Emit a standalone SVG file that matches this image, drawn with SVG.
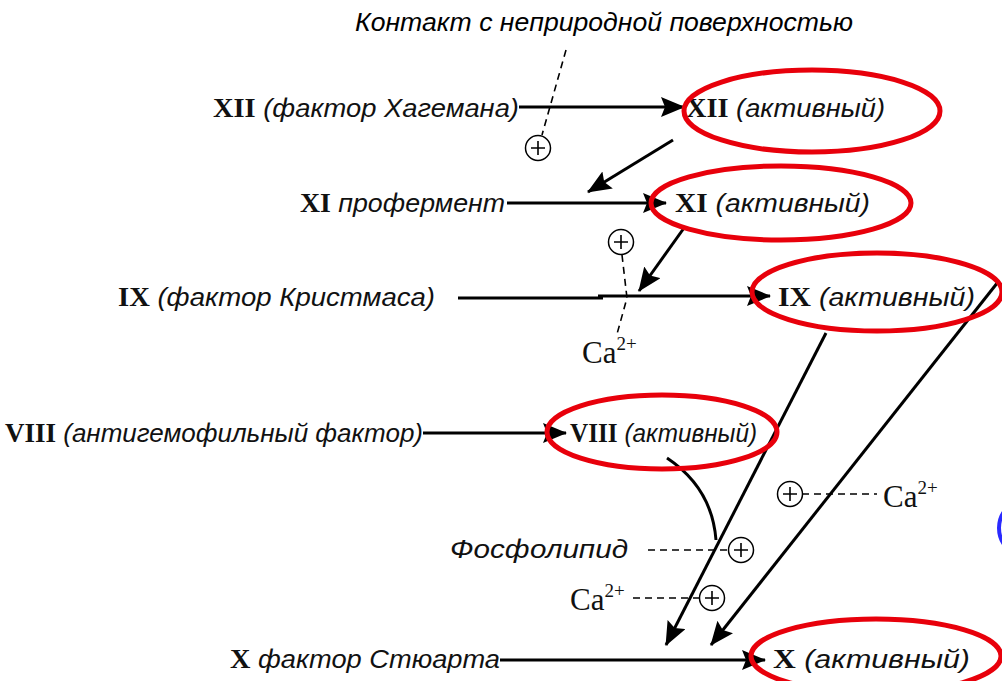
<svg xmlns="http://www.w3.org/2000/svg" width="1002" height="681" viewBox="0 0 1002 681">
<style>
.lbl{font-family:"Liberation Sans",Arial,sans-serif;font-style:italic;font-size:26px;fill:#111}
.rn{font-family:"Liberation Serif","Times New Roman",serif;font-style:normal;font-weight:bold;font-size:27px}
.ca{font-family:"Liberation Serif","Times New Roman",serif;font-size:31px;fill:#111}
.sup{font-size:19px}
.ttl{font-family:"Liberation Sans",Arial,sans-serif;font-style:italic;font-size:25px;fill:#000}
.ln{stroke:#000;stroke-width:3;fill:none}
.dash{stroke:#000;stroke-width:1.6;stroke-dasharray:7 5;fill:none}
.red{fill:none;stroke:#e8000b;stroke-width:5}
.pc{fill:#fff;stroke:#000;stroke-width:1.5}
.pl{stroke:#000;stroke-width:1.6}
</style>
<defs>
<marker id="ah" markerUnits="userSpaceOnUse" markerWidth="24" markerHeight="20" refX="23" refY="10" orient="auto">
<path d="M0,0 L24,10 L0,20 L4,10 z" fill="#000"/>
</marker>
<g id="plus"><circle r="12.5" class="pc"/><path d="M-7,0 H7 M0,-7 V7" class="pl"/></g>
</defs>
<rect width="1002" height="681" fill="#fff"/>

<g id="connectors">
<line x1="519" y1="107" x2="684" y2="107" class="ln" marker-end="url(#ah)"/>
<line x1="673" y1="140" x2="588" y2="192" class="ln" marker-end="url(#ah)"/>
<line x1="507" y1="203" x2="666" y2="203" class="ln" marker-end="url(#ah)"/>
<line x1="684" y1="228" x2="639" y2="291" class="ln" marker-end="url(#ah)"/>
<line x1="458" y1="298" x2="603" y2="298" class="ln" stroke-width="3.5"/>
<line x1="598" y1="296" x2="770" y2="296" class="ln" marker-end="url(#ah)"/>
<line x1="423" y1="433" x2="566" y2="433" class="ln" marker-end="url(#ah)"/>
<line x1="826" y1="333" x2="666" y2="645" class="ln" marker-end="url(#ah)"/>
<line x1="998" y1="282" x2="711" y2="645" class="ln" marker-end="url(#ah)"/>
<path d="M667,458 Q712,488 716,540" class="ln"/>
<line x1="500" y1="660" x2="765" y2="660" class="ln" marker-end="url(#ah)"/>
<path d="M566,50 L542,135" class="dash"/>
<path d="M622,255 L627,298 L617,334" class="dash"/>
<path d="M802,494 H877" class="dash"/>
<path d="M648,550 H728" class="dash"/>
<path d="M633,598 H699" class="dash"/>
</g>

<g id="title"><text x="355" y="31" class="ttl" textLength="498" lengthAdjust="spacingAndGlyphs">Контакт с неприродной поверхностью</text></g>

<g id="n-xii"><text x="213" y="117" class="lbl" textLength="306" lengthAdjust="spacingAndGlyphs"><tspan class="rn">XII</tspan> (фактор Хагемана)</text></g>
<g id="n-xii-a"><text x="686" y="117" class="lbl" textLength="199" lengthAdjust="spacingAndGlyphs"><tspan class="rn">XII</tspan> (активный)</text><ellipse cx="812" cy="111" rx="128" ry="41" class="red"/></g>
<g id="p1"><use href="#plus" x="538" y="148"/></g>

<g id="n-xi"><text x="300" y="212" class="lbl" textLength="205" lengthAdjust="spacingAndGlyphs"><tspan class="rn">XI</tspan> профермент</text></g>
<g id="n-xi-a"><text x="675" y="212" class="lbl" textLength="195" lengthAdjust="spacingAndGlyphs"><tspan class="rn">XI</tspan> (активный)</text><ellipse cx="781" cy="203" rx="130" ry="37" class="red"/></g>
<g id="p2"><use href="#plus" x="621" y="242"/></g>

<g id="n-ix"><text x="118" y="306" class="lbl" textLength="317" lengthAdjust="spacingAndGlyphs"><tspan class="rn">IX</tspan> (фактор Кристмаса)</text></g>
<g id="n-ix-a"><text x="778" y="306" class="lbl" textLength="197" lengthAdjust="spacingAndGlyphs"><tspan class="rn">IX</tspan> (активный)</text><ellipse cx="877" cy="292" rx="125" ry="39" class="red"/></g>
<g id="ca1"><text x="582" y="363" class="ca">Ca<tspan class="sup" dy="-13">2+</tspan></text></g>

<g id="n-viii"><text x="5" y="442" class="lbl" textLength="418" lengthAdjust="spacingAndGlyphs"><tspan class="rn">VIII</tspan> (антигемофильный фактор)</text></g>
<g id="n-viii-a"><text x="570" y="442" class="lbl" textLength="187" lengthAdjust="spacingAndGlyphs"><tspan class="rn">VIII</tspan> (активный)</text><ellipse cx="662" cy="432" rx="115" ry="37" class="red"/></g>

<g id="p3"><use href="#plus" x="790" y="494"/></g>
<g id="ca2"><text x="883" y="507" class="ca">Ca<tspan class="sup" dy="-13">2+</tspan></text></g>

<g id="n-phos"><text x="450" y="558" class="lbl" textLength="178" lengthAdjust="spacingAndGlyphs">Фосфолипид</text></g>
<g id="p4"><use href="#plus" x="741" y="550"/></g>

<g id="ca3"><text x="570" y="610" class="ca">Ca<tspan class="sup" dy="-13">2+</tspan></text></g>
<g id="p5"><use href="#plus" x="712" y="598"/></g>

<g id="n-x"><text x="230" y="668" class="lbl" textLength="270" lengthAdjust="spacingAndGlyphs"><tspan class="rn">X</tspan> фактор Стюарта</text></g>
<g id="n-x-a"><text x="773" y="668" class="lbl" textLength="197" lengthAdjust="spacingAndGlyphs"><tspan class="rn">X</tspan> (активный)</text><ellipse cx="876" cy="656" rx="125" ry="37" class="red"/></g>

<g id="blue-mark"><ellipse cx="1030" cy="528" rx="31" ry="30" fill="none" stroke="#2a2aff" stroke-width="4"/></g>
</svg>
